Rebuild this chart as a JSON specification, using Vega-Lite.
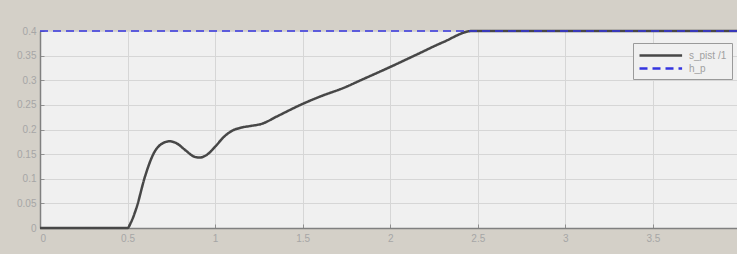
{
  "$schema": "https://vega.github.io/schema/vega-lite/v6.json",
  "width": 697,
  "height": 197,
  "autosize": "none",
  "padding": {"left": 40, "top": 31, "right": 0, "bottom": 26},
  "background": "#d4d0c8",
  "config": {
    "view": {"fill": "#f0f0f0", "stroke": "#8a8a8a", "strokeWidth": 1},
    "axis": {
      "labelColor": "#a6a6a6",
      "labelFont": "Liberation Sans",
      "labelFontSize": 10,
      "gridColor": "#d6d6d6",
      "gridWidth": 1,
      "domainColor": "#808080",
      "domainWidth": 1.5,
      "tickColor": "#909090",
      "tickSize": -4,
      "title": null
    },
    "legend": {
      "orient": "none",
      "legendX": 593,
      "legendY": 12,
      "strokeColor": "#9a9a9a",
      "fillColor": "#f0f0f0",
      "padding": 5,
      "labelFont": "Liberation Sans",
      "labelFontSize": 10,
      "labelColor": "#a0a0a0",
      "labelOffset": 36,
      "symbolType": "M-1,0H6.1",
      "symbolSize": 144,
      "symbolStrokeWidth": 2.5,
      "rowPadding": 0,
      "title": null
    }
  },
  "data": {
    "values": [
      {"t": 0, "v": 0, "series": "s_pist /1"},
      {"t": 0.5, "v": 0, "series": "s_pist /1"},
      {"t": 0.52, "v": 0.012, "series": "s_pist /1"},
      {"t": 0.55, "v": 0.04, "series": "s_pist /1"},
      {"t": 0.6, "v": 0.105, "series": "s_pist /1"},
      {"t": 0.65, "v": 0.152, "series": "s_pist /1"},
      {"t": 0.7, "v": 0.172, "series": "s_pist /1"},
      {"t": 0.74, "v": 0.176, "series": "s_pist /1"},
      {"t": 0.78, "v": 0.172, "series": "s_pist /1"},
      {"t": 0.83, "v": 0.158, "series": "s_pist /1"},
      {"t": 0.88, "v": 0.145, "series": "s_pist /1"},
      {"t": 0.91, "v": 0.143, "series": "s_pist /1"},
      {"t": 0.95, "v": 0.148, "series": "s_pist /1"},
      {"t": 1.0, "v": 0.165, "series": "s_pist /1"},
      {"t": 1.05, "v": 0.185, "series": "s_pist /1"},
      {"t": 1.1, "v": 0.198, "series": "s_pist /1"},
      {"t": 1.15, "v": 0.204, "series": "s_pist /1"},
      {"t": 1.2, "v": 0.207, "series": "s_pist /1"},
      {"t": 1.27, "v": 0.212, "series": "s_pist /1"},
      {"t": 1.35, "v": 0.226, "series": "s_pist /1"},
      {"t": 1.5, "v": 0.252, "series": "s_pist /1"},
      {"t": 1.6, "v": 0.267, "series": "s_pist /1"},
      {"t": 1.73, "v": 0.284, "series": "s_pist /1"},
      {"t": 1.85, "v": 0.303, "series": "s_pist /1"},
      {"t": 2.0, "v": 0.327, "series": "s_pist /1"},
      {"t": 2.15, "v": 0.352, "series": "s_pist /1"},
      {"t": 2.3, "v": 0.377, "series": "s_pist /1"},
      {"t": 2.47, "v": 0.4, "series": "s_pist /1"},
      {"t": 3.98, "v": 0.4, "series": "s_pist /1"},
      {"t": 0, "v": 0.4, "series": "h_p"},
      {"t": 3.98, "v": 0.4, "series": "h_p"}
    ]
  },
  "encoding": {
    "x": {
      "field": "t",
      "type": "quantitative",
      "scale": {"domain": [0, 3.98], "nice": false, "zero": false},
      "axis": {"values": [0, 0.5, 1, 1.5, 2, 2.5, 3, 3.5], "format": "~g", "labelPadding": 9}
    },
    "y": {
      "field": "v",
      "type": "quantitative",
      "scale": {"domain": [0, 0.4], "nice": false},
      "axis": {"values": [0, 0.05, 0.1, 0.15, 0.2, 0.25, 0.3, 0.35, 0.4], "format": "~g", "labelPadding": 8}
    },
    "color": {
      "field": "series",
      "type": "nominal",
      "scale": {"domain": ["s_pist /1", "h_p"], "range": ["#474747", "#3535e0"]}
    },
    "strokeDash": {
      "field": "series",
      "type": "nominal",
      "scale": {"domain": ["s_pist /1", "h_p"], "range": [[1, 0], [8, 5]]}
    }
  },
  "layer": [
    {
      "transform": [{"filter": "datum.series === 's_pist /1'"}],
      "mark": {"type": "line", "interpolate": "monotone", "strokeWidth": 2.5, "clip": false}
    },
    {
      "transform": [{"filter": "datum.series === 'h_p'"}],
      "mark": {"type": "line", "strokeWidth": 1.5, "clip": false}
    }
  ]
}
